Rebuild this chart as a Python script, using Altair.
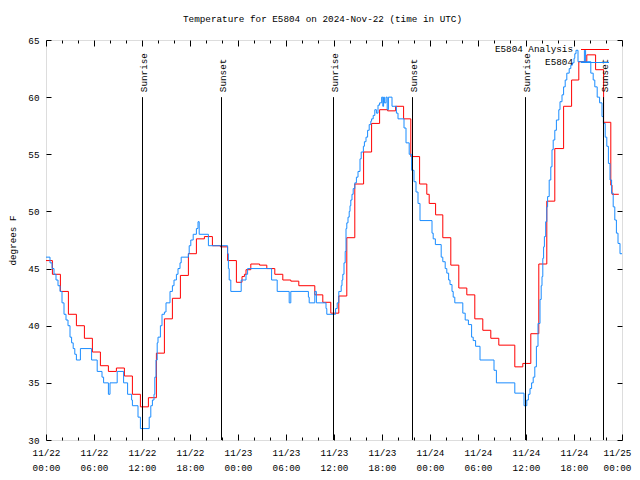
import altair as alt
import pandas as pd

# ---------------- data (hours after 2024-11-22 00:00 UTC, degrees F) ----------------
analysis_hours = [0.0, 0.8, 1.8, 2.8, 3.8, 4.8, 5.8, 6.8, 7.8, 8.8, 9.8, 10.8, 11.8, 12.8,
                  13.8, 14.8, 15.8, 16.8, 17.8, 18.8, 19.8, 20.8, 21.8, 22.7, 23.8, 24.5,
                  24.8, 25.0, 25.6, 26.7, 27.6, 28.6, 29.6, 30.6, 31.6, 33.6, 34.6, 35.6,
                  36.6, 37.6, 38.6, 39.7, 40.7, 41.7, 42.7, 43.7, 44.7, 45.6, 46.7, 47.6,
                  47.9, 48.7, 49.6, 50.6, 51.6, 52.6, 53.6, 54.6, 55.6, 56.6, 58.6, 59.6,
                  60.6, 61.6, 62.6, 63.6, 64.7, 65.7, 66.6, 67.6, 68.7, 69.7, 70.6, 70.75,
                  71.6]
analysis_temps = [45.7, 44.5, 43.0, 41.0, 40.0, 38.9, 37.7, 36.5, 36.0, 36.3, 35.6, 34.0, 32.9, 33.7,
                  37.6, 40.6, 42.4, 44.4, 46.3, 47.6, 47.8, 47.0, 46.9, 45.7, 43.8, 44.3,
                  44.5, 44.9, 45.4, 45.3, 45.0, 44.5, 44.0, 43.9, 43.5, 42.7, 42.05, 41.1,
                  42.6, 47.7, 52.4, 55.2, 57.7, 58.9, 58.8, 59.2, 58.1, 54.8, 52.4, 51.5,
                  50.7, 49.7, 47.7, 45.3, 43.3, 42.7, 40.6, 39.6, 38.9, 38.3, 36.4, 36.7,
                  39.3, 45.4, 50.9, 55.5, 59.2, 61.5, 63.1, 63.7, 62.4, 57.8, 52.3, 51.5,
                  51.5]

obs_hours = [0.0, 0.5, 0.75, 1.0, 1.25, 1.5, 1.75, 2.0, 2.25, 2.5, 2.75, 3.0, 3.2, 3.4, 3.6, 3.8,
             4.3, 5.7, 6.4, 7.0, 7.2, 7.8, 8.0, 8.9, 9.7, 10.2, 10.7, 10.8, 11.5, 11.8, 12.9,
             13.1, 13.3, 13.5, 13.6, 13.75, 13.9, 14.0, 14.3, 14.5, 14.8, 15.0, 15.5, 15.8,
             16.0, 16.3, 16.5, 16.75, 16.9, 17.8, 17.9, 18.1, 18.4, 18.8, 19.0, 19.15, 20.3,
             22.7, 22.8, 22.9, 23.1, 24.4, 25.0, 25.2, 28.2, 28.9, 30.4, 30.6, 32.8, 32.9,
             33.6, 33.8, 35.0, 35.1, 36.2, 36.4, 36.6, 36.9, 37.0, 37.1, 37.25, 37.4, 37.5,
             37.6, 37.75, 37.9, 38.0, 38.1, 38.25, 38.4, 38.6, 38.8, 39.0, 39.25, 39.4, 39.67,
             39.8, 40.0, 40.2, 40.4, 40.6, 40.7, 40.9, 41.1, 41.3, 41.5, 41.7, 41.96, 42.1,
             42.2, 42.3, 42.5, 42.65, 42.8, 43.25, 43.8, 44.0, 44.75, 45.0, 45.4, 45.7, 46.0,
             46.25, 46.5, 46.75, 48.25, 48.4, 48.67, 49.4, 49.6, 49.9, 50.1, 50.33, 50.5,
             50.75, 50.9, 51.1, 52.1, 52.4, 52.8, 53.2, 53.4, 53.7, 54.25, 56.0, 56.3, 58.6,
             59.75, 60.1, 60.3, 60.5, 60.7, 60.9, 61.1, 61.3, 61.5, 61.75, 61.9, 62.0, 62.1,
             62.2, 62.3, 62.46, 62.6, 62.7, 62.9, 63.1, 63.25, 63.4, 63.6, 63.8, 64.1, 64.25,
             64.5, 64.7, 64.9, 65.1, 65.4, 65.6, 65.8, 66.0, 66.1, 66.25, 66.5, 67.3, 67.45,
             68.1, 68.4, 68.6, 68.9, 69.2, 69.5, 69.67, 69.9, 70.1, 70.3, 70.5, 70.7, 70.9,
             71.1, 71.3, 71.5, 71.75, 72.0]
obs_temps = [46.0, 45.5, 45.0, 44.5, 44.0, 43.5, 43.0, 42.0, 41.0, 40.5, 40.0, 39.0, 38.5, 38.0, 37.5, 37.0,
             38.0, 37.0, 36.0, 35.5, 35.0, 34.0, 35.0, 36.0, 35.0, 34.0, 33.5, 33.0, 32.0, 31.0, 32.0,
             33.0, 33.5, 34.0, 35.5, 37.0, 38.5, 39.0, 40.0, 41.0, 41.2, 42.0, 43.0, 43.5,
             44.0, 44.5, 45.0, 45.5, 46.0, 46.3, 47.0, 47.5, 48.0, 48.5, 49.1, 48.0, 47.0,
             46.3, 45.0, 44.0, 43.0, 44.0, 44.5, 45.0, 44.0, 43.0, 42.0, 43.0, 42.5, 42.0,
             43.0, 42.0, 41.5, 41.0, 41.5, 42.0, 43.0, 43.5, 44.0, 44.5, 45.5, 46.5, 48.5,
             49.0, 49.5, 50.0, 50.5, 51.0, 51.5, 52.0, 52.5, 53.0, 53.5, 54.6, 55.2, 55.7,
             56.1, 56.5, 57.1, 57.6, 57.9, 58.1, 58.4, 58.9, 58.6, 59.3, 59.5, 60.0, 59.2,
             60.0, 59.5, 60.0, 58.9, 60.0, 59.2, 58.6, 58.1, 57.3, 56.0, 55.0, 53.6, 52.6,
             51.7, 50.7, 49.2, 48.1, 47.6, 47.1, 46.0, 45.6, 45.0, 44.6, 44.0, 43.6,
             43.0, 42.5, 42.0, 41.1, 40.5, 40.1, 39.0, 38.7, 38.2, 37.0, 36.1, 35.0, 34.1,
             33.0, 33.5, 34.0, 34.5, 35.0, 35.5, 36.4, 38.2, 40.2, 42.3, 43.5, 44.3, 45.9,
             46.9, 47.8, 49.1, 50.4, 51.3, 52.75, 53.9, 55.4, 56.25, 57.1, 58.0, 58.9, 59.6,
             60.2, 60.9, 61.5, 62.1, 62.5, 62.8, 63.0, 63.4, 63.8, 64.1, 63.1, 64.1, 63.1,
             62.1, 61.5, 60.9, 60.0, 59.5, 58.3, 57.7, 56.5, 55.7, 54.2, 52.75, 51.6, 50.4,
             49.25, 48.1, 47.2, 46.3, 46.3]

event_hours = [12.0, 21.875, 35.875, 45.75, 59.875, 69.625]
event_labels = ["Sunrise", "Sunset", "Sunrise", "Sunset", "Sunrise", "Sunset"]

tick_dates = ["11/22", "11/22", "11/22", "11/22", "11/23", "11/23", "11/23",
              "11/23", "11/24", "11/24", "11/24", "11/24", "11/25"]
tick_times = ["00:00", "06:00", "12:00", "18:00", "00:00", "06:00", "12:00",
              "18:00", "00:00", "06:00", "12:00", "18:00", "00:00"]
y_ticks = [30, 35, 40, 45, 50, 55, 60, 65]

series_names = ["E5804 Analysis", "E5804"]
series_colors = ["#ff0000", "#1a8cff"]

assert len(analysis_hours) == len(analysis_temps)
assert len(obs_hours) == len(obs_temps)

# ---------------- style ----------------
FONT = "Liberation Mono"
FS = 9.3
W, H = 576, 400
major_x = list(range(0, 73, 6))
minor_x = list(range(0, 73, 2))

x_scale = alt.Scale(domain=[0, 72], nice=False, zero=False)
y_scale = alt.Scale(domain=[30, 65], nice=False, zero=False)

label_js = "[" + ",".join("['%s','%s']" % (d, t) for d, t in zip(tick_dates, tick_times)) + "]"
x_tick_size = {"condition": {"test": "datum.value % 6 === 0", "value": 6}, "value": 3}
last_label_shift = {"condition": {"test": "datum.value >= 72", "value": -5}, "value": 0}

ax_x_labels = alt.Axis(orient="bottom", values=major_x, ticks=False, domain=False, grid=False,
                       labelExpr=label_js + "[round(datum.value / 6)]",
                       labelFont=FONT, labelFontSize=FS, labelColor="black", labelAngle=0,
                       labelPadding=8, labelLineHeight=15, labelFlush=False,
                       labelOffset=last_label_shift,
                       labelOverlap=False, labelBound=False, title=None)
ax_x_in_bottom = alt.Axis(orient="top", offset=-H, values=minor_x, labels=False, domain=False,
                          grid=False, tickColor="black", tickSize=x_tick_size, title=None)
ax_x_in_top = alt.Axis(orient="bottom", offset=-H, values=minor_x, labels=False, domain=False,
                       grid=False, tickColor="black", tickSize=x_tick_size, title=None)

ax_y_labels = alt.Axis(orient="left", values=y_ticks, ticks=False, domain=False, grid=False,
                       labelFont=FONT, labelFontSize=FS, labelColor="black", labelPadding=7,
                       title="degrees F", titleFont=FONT, titleFontSize=FS,
                       titleFontWeight="normal", titleColor="black", titleAngle=270,
                       titleX=-34, titleY=200, titleAlign="center", titleBaseline="middle")
ax_y_in_left = alt.Axis(orient="right", offset=-W, values=y_ticks, labels=False, domain=False,
                        grid=False, tickColor="black", tickSize=5, title=None)
ax_y_in_right = alt.Axis(orient="left", offset=-W, values=y_ticks, labels=False, domain=False,
                         grid=False, tickColor="black", tickSize=5, title=None)

df_an = pd.DataFrame({"h": analysis_hours, "temp": analysis_temps})
df_obs = pd.DataFrame({"h": obs_hours, "temp": obs_temps})
df_ev = pd.DataFrame({"h": event_hours, "label": event_labels})

red = alt.Chart(df_an).mark_line(interpolate="step-after", color=series_colors[0],
                                  strokeWidth=1).encode(
    x=alt.X("h:Q", scale=x_scale, axis=ax_x_labels),
    y=alt.Y("temp:Q", scale=y_scale, axis=ax_y_labels),
)
blue = alt.Chart(df_obs).mark_line(interpolate="step-after", color=series_colors[1],
                                    strokeWidth=1).encode(
    x=alt.X("h:Q", scale=x_scale, axis=ax_x_in_bottom),
    y=alt.Y("temp:Q", scale=y_scale, axis=ax_y_in_left),
)
rules = alt.Chart(df_ev).mark_rule(color="black", strokeWidth=1, xOffset=0.5).encode(
    x=alt.X("h:Q", scale=x_scale, axis=ax_x_in_top),
    y=alt.YDatum(60, axis=ax_y_in_right),
    y2=alt.Y2Datum(30),
)
# dx/dy are applied in the rotated text frame: dx moves up the page, dy to the right
ev_text = alt.Chart(df_ev).mark_text(angle=270, align="left", baseline="middle", dx=5, dy=1.5,
                                     font=FONT, fontSize=FS, color="black").encode(
    x=alt.X("h:Q", scale=x_scale, axis=None),
    y=alt.YDatum(60, axis=None),
    text="label:N",
)

legend_layers = []
for i, (name, col) in enumerate(zip(series_names, series_colors)):
    ly = 9 + 13 * i
    d = pd.DataFrame({"name": [name]})
    legend_layers.append(alt.Chart(d).mark_text(align="right", baseline="middle", font=FONT,
                                                fontSize=FS, color="black").encode(
        x=alt.value(527), y=alt.value(ly), text="name:N"))
    legend_layers.append(alt.Chart(d).mark_rule(color=col, strokeWidth=1, yOffset=0.5).encode(
        x=alt.value(535), x2=alt.value(563), y=alt.value(ly)))

chart = alt.layer(red, blue, rules, ev_text, *legend_layers).properties(
    width=W, height=H,
    title=alt.TitleParams(text="Temperature for E5804 on 2024-Nov-22 (time in UTC)",
                          font=FONT, fontSize=FS, fontWeight="normal", color="black",
                          anchor="middle", frame="group", dx=-11.5, offset=12),
    autosize=alt.AutoSizeParams(type="none"),
    padding={"left": 38, "top": 32, "right": 10, "bottom": 32},
).configure_view(stroke="black", strokeWidth=1).configure(background="white")

chart.save("out.html", embed_options={"renderer": "svg", "actions": False})
